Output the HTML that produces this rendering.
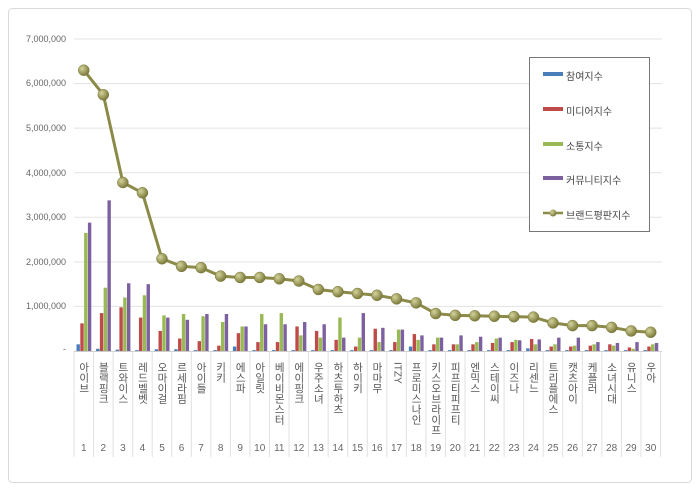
<!DOCTYPE html>
<html><head><meta charset="utf-8"><style>
body{margin:0;background:#fff;}
#c{position:relative;width:700px;height:491px;font-family:"Liberation Sans","Noto Sans CJK KR",sans-serif;}
.lb{position:absolute;top:362px;writing-mode:vertical-rl;text-orientation:upright;font-size:10.5px;color:#555;line-height:12px;}
.nm{position:absolute;top:443px;font-size:10px;color:#666;width:20px;text-align:center;}
.yl{position:absolute;left:0;width:66px;text-align:right;font-size:9px;color:#666;}
.lg{position:absolute;left:566px;font-size:10px;color:#444;}
</style></head><body><div id="c">
<svg id="s" width="700" height="491" style="position:absolute;left:0;top:0">
<defs><radialGradient id="g" cx="35%" cy="35%" r="65%"><stop offset="0" stop-color="#d4d39a"/><stop offset="1" stop-color="#7d7b3c"/></radialGradient></defs>
<rect x="8.5" y="8.5" width="683" height="474" rx="4" fill="#fff" stroke="#d9d9d9"/>
</svg>
<div class="yl" style="top:34px">7,000,000</div>
<div class="yl" style="top:78px">6,000,000</div>
<div class="yl" style="top:123px">5,000,000</div>
<div class="yl" style="top:168px">4,000,000</div>
<div class="yl" style="top:212px">3,000,000</div>
<div class="yl" style="top:257px">2,000,000</div>
<div class="yl" style="top:301px">1,000,000</div>
<div class="yl" style="top:344px">-</div>
<div class="lg" style="top:68px">참여지수</div>
<div class="lg" style="top:103px">미디어지수</div>
<div class="lg" style="top:138px">소통지수</div>
<div class="lg" style="top:172px">커뮤니티지수</div>
<div class="lg" style="top:207px">브랜드평판지수</div>
<div id="labels"></div>
</div>
<script>
var names=["아이브","블랙핑크","트와이스","레드벨벳","오마이걸","르세라핌","아이들","키키","에스파","아일릿","베이비몬스터","에이핑크","우주소녀","하츠투하츠","하이키","마마무","ITZY","프로미스나인","키스오브라이프","피프티피프티","엔믹스","스테이씨","이즈나","리센느","트리플에스","캣츠아이","케플러","소녀시대","유니스","우아"];
var line=[6.3,5.75,3.78,3.55,2.07,1.9,1.87,1.68,1.65,1.65,1.62,1.57,1.38,1.33,1.29,1.25,1.17,1.08,.84,.8,.79,.78,.77,.76,.63,.57,.57,.53,.45,.42];
var bars=[[.15,.62,2.65,2.88],[.05,.85,1.42,3.38],[.03,.98,1.2,1.52],[.02,.75,1.25,1.5],[.04,.45,.8,.75],[.04,.28,.83,.7],[.02,.22,.78,.83],[.02,.12,.65,.83],[.1,.4,.55,.55],[.02,.2,.83,.6],[.02,.2,.85,.6],[.02,.55,.35,.65],[.02,.45,.3,.6],[.02,.25,.75,.3],[.02,.1,.3,.85],[.02,.5,.2,.52],[.02,.2,.48,.48],[.1,.38,.25,.35],[.02,.15,.3,.3],[.02,.15,.15,.35],[.02,.15,.2,.32],[.02,.18,.28,.3],[.02,.2,.25,.24],[.06,.27,.15,.26],[.02,.1,.15,.3],[.02,.1,.12,.3],[.02,.12,.15,.2],[.02,.15,.12,.18],[.02,.08,.05,.2],[.02,.1,.15,.18]];
var cols=["#4a7ebb","#be4b48","#98b954","#7d60a0"];
var s=document.getElementById('s'),h='';
var X0=74,W=19.55,Y0=351,K=44.57;
for(var m=1;m<=7;m++){var y=Y0-m*K;h+='<line x1="74" x2="662" y1="'+y+'" y2="'+y+'" stroke="#e3e3e3"/>';}
h+='<line x1="74" x2="662" y1="351.5" y2="351.5" stroke="#ccc"/>';
for(var i=0;i<=30;i++){var x=X0+i*W;h+='<line x1="'+x+'" x2="'+x+'" y1="351" y2="457" stroke="#e0e0e0"/>';}
for(i=0;i<30;i++){for(var j=0;j<4;j++){var v=bars[i][j]*K,x=X0+i*W+2.5+j*3.8;h+='<rect x="'+x+'" y="'+(Y0-v)+'" width="3.4" height="'+v+'" fill="'+cols[j]+'"/>';}}
var p='';for(i=0;i<30;i++){p+=(X0+(i+.5)*W)+','+(Y0-line[i]*K)+' ';}
h+='<polyline points="'+p+'" fill="none" stroke="#8b8a48" stroke-width="3"/>';
for(i=0;i<30;i++){h+='<circle cx="'+(X0+(i+.5)*W)+'" cy="'+(Y0-line[i]*K)+'" r="5.5" fill="url(#g)" stroke="#7a7838" stroke-width=".5"/>';}
h+='<rect x="529.5" y="57.5" width="120" height="174" fill="#fff" stroke="#777"/>';
var ly=[74,109,144,178,213];
for(j=0;j<4;j++){h+='<rect x="543" y="'+(ly[j]-2)+'" width="20" height="4" fill="'+cols[j]+'"/>';}
s.insertAdjacentHTML('beforeend',h);
s.insertAdjacentHTML('beforeend','<line x1="543" x2="563" y1="213" y2="213" stroke="#8b8a48" stroke-width="2.5"/><circle cx="553" cy="213" r="3.5" fill="url(#g)"/>');
var L='';
for(i=0;i<30;i++){var cx=X0+(i+.5)*W;var st=(i==16)?'text-orientation:mixed;font-size:10px;':'';L+='<div class="lb" style="left:'+(cx-6)+'px;'+st+'">'+names[i]+'</div><div class="nm" style="left:'+(cx-10)+'px">'+(i+1)+'</div>';}
document.getElementById('labels').innerHTML=L;
</script>
</body></html>
